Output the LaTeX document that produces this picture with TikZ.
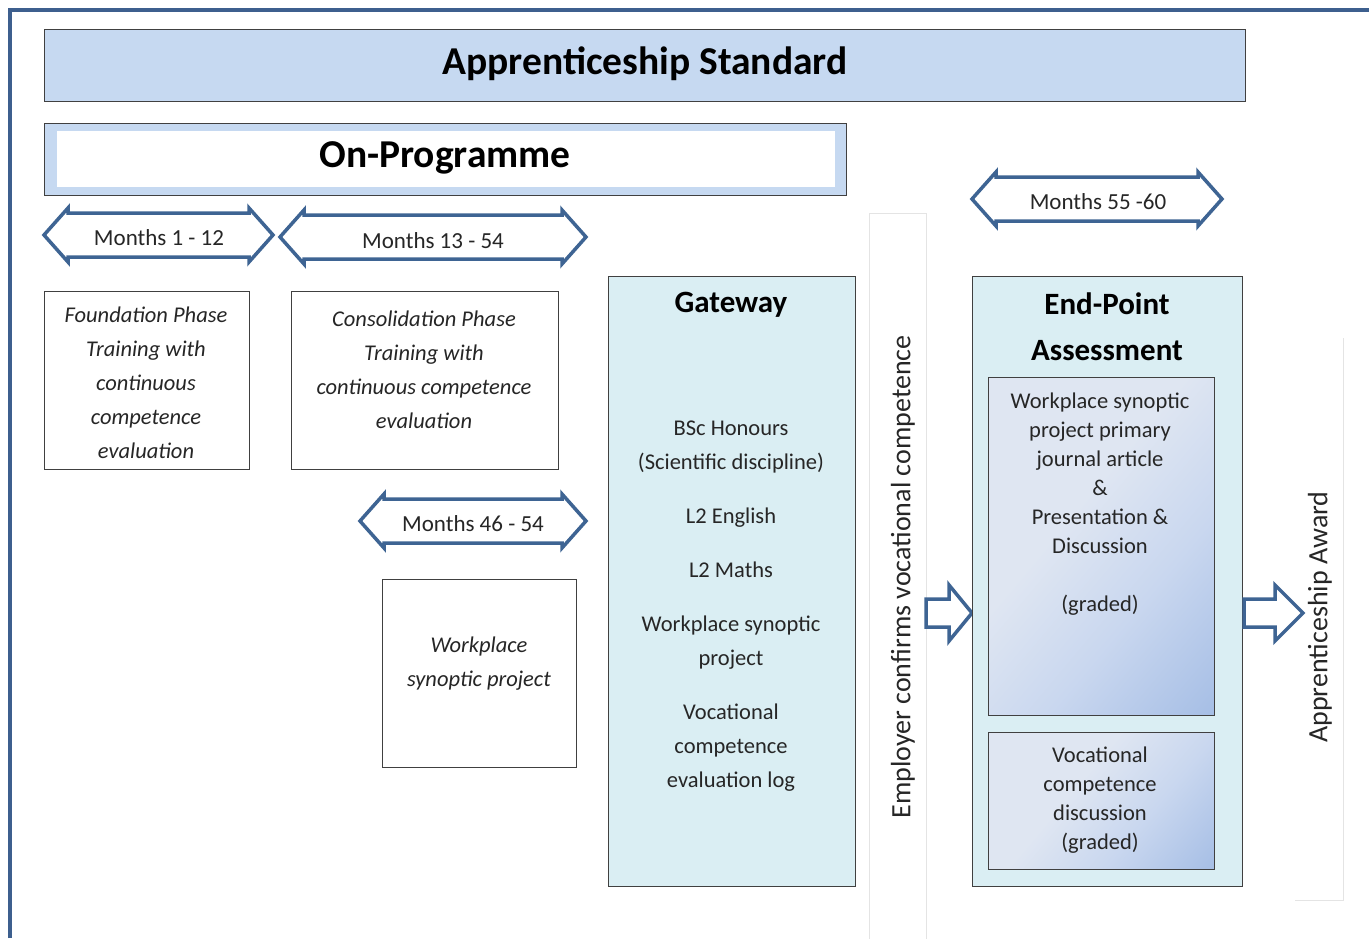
\documentclass[tikz,border=0pt]{standalone}
\usepackage{fontspec}
\setmainfont{Carlito}
\definecolor{framec}{HTML}{3D5F8E}
\definecolor{arrc}{HTML}{3E6493}
\definecolor{bordc}{HTML}{404040}
\definecolor{titlef}{HTML}{C6D9F1}
\definecolor{gatef}{HTML}{DAEEF3}
\definecolor{gradA}{HTML}{DFE6F2}
\definecolor{gradM}{HTML}{C9D7EF}
\definecolor{gradB}{HTML}{8FAEDF}
\definecolor{faint}{HTML}{E4E4E4}
\definecolor{txt}{HTML}{262626}
\pgfdeclarehorizontalshading{epagrad}{100bp}{color(0bp)=(gradA); color(42bp)=(gradA); color(62bp)=(gradM); color(100bp)=(gradB)}
\tikzset{
  box/.style={draw=bordc, line width=1.3, inner sep=0, anchor=north west},
  gradbox/.style={box, shading=epagrad, shading angle=-40},
  arrline/.style={draw=arrc, line width=3.5, fill=white, line join=miter},
  body/.style={font=\fontsize{22.5}{34}\selectfont, align=center, text=txt, inner sep=0},
  ital/.style={font=\fontsize{22.5}{34}\selectfont\itshape, align=center, text=txt, inner sep=0},
  epa/.style={font=\fontsize{22.5}{29}\selectfont, align=center, text=txt, inner sep=0},
  head/.style={font=\fontsize{39.5}{46}\selectfont\bfseries, align=center, inner sep=0},
  subhead/.style={font=\fontsize{31}{46}\selectfont\bfseries, align=center, inner sep=0},
  months/.style={font=\fontsize{23}{27}\selectfont, text=txt, inner sep=0},
  vert/.style={font=\fontsize{28}{30}\selectfont, rotate=90, text=txt, inner sep=0},
}
\newcommand\dblarrow[3]{%
  \draw[arrline] (#1,#3) -- (#1+24,#3-27) -- (#1+24,#3-22) -- (#2-24,#3-22) -- (#2-24,#3-27)
    -- (#2,#3) -- (#2-24,#3+27) -- (#2-24,#3+22) -- (#1+24,#3+22) -- (#1+24,#3+27) -- cycle;}
\newcommand\blockarrow[4]{% x0, xhead, xtip, yc
  \draw[arrline] (#1,#4-14) -- (#2,#4-14) -- (#2,#4-28) -- (#3,#4) -- (#2,#4+28) -- (#2,#4+14) -- (#1,#4+14) -- cycle;}
\begin{document}
\begin{tikzpicture}[x=1pt,y=-1pt]
\useasboundingbox (0,0) rectangle (1369,938);
\fill[white] (0,0) rectangle (1369,938);
% outer frame
\draw[framec, line width=4] (10,938) -- (10,10) -- (1369,10);
% title
\node[box, fill=titlef, minimum width=1201, minimum height=72] (stdbox) at (44,29) {};
\node[head] (std) at (645,64) {Apprenticeship Standard};
% on-programme
\node[box, fill=titlef, minimum width=802, minimum height=72] (onprog) at (44,123) {};
\node[inner sep=0, anchor=north west, fill=white, minimum width=778, minimum height=56] (onprogin) at (57,131) {};
\node[head] (onprogt) at (445,158) {On-Programme};
% month arrows
\dblarrow{44}{273}{235}
\node[months] (m1) at (159,238) {Months 1 - 12};
\dblarrow{280}{586}{237}
\node[months] (m2) at (433,241) {Months 13 - 54};
\dblarrow{360}{586}{521}
\node[months] (m3) at (473,524) {Months 46 - 54};
\dblarrow{972}{1222}{199}
\node[months] (m4) at (1098,202) {Months 55 -60};
% phases
\node[box, minimum width=205, minimum height=178] (found) at (44,291) {};
\node[ital] (foundt) at (146,383) {Foundation Phase\\Training with\\continuous\\competence\\evaluation};
\node[box, minimum width=267, minimum height=178] (cons) at (291,291) {};
\node[ital] (const) at (424,370) {Consolidation Phase\\Training with\\continuous competence\\evaluation};
\node[box, minimum width=194, minimum height=188] (wsp) at (382,579) {};
\node[ital] (wspt) at (479,664) {Workplace\\synoptic project};
% gateway
\node[box, fill=gatef, minimum width=247, minimum height=610] (gate) at (608,276) {};
\node[subhead] (gatet) at (731,305) {Gateway};
\node[body] (gatebody) at (731,606) {BSc Honours\\(Scientific discipline)\\[20pt]L2 English\\[20pt]L2 Maths\\[20pt]Workplace synoptic\\project\\[20pt]Vocational\\competence\\evaluation log};
% employer strip
\node[draw=faint, line width=1, inner sep=0, anchor=north west, minimum width=57, minimum height=740] (empstrip) at (869,213) {};
\node[vert] (emp) at (903,577) {Employer confirms vocational competence};
\blockarrow{926}{949}{972}{613}
% EPA
\node[box, fill=gatef, minimum width=270, minimum height=610] (epa) at (972,276) {};
\node[subhead] (epat) at (1107,327) {End-Point\\Assessment};
\node[gradbox, minimum width=226, minimum height=338] (epa1) at (988,377) {};
\node[epa] (epa1t) at (1100,504) {Workplace synoptic\\project primary\\journal article\\\&\\Presentation \&\\Discussion\\[29pt](graded)};
\node[gradbox, minimum width=226, minimum height=137] (epa2) at (988,732) {};
\node[epa] (epa2t) at (1100,800) {Vocational\\competence\\discussion\\(graded)};
\blockarrow{1244}{1275}{1303}{613}
% award strip
\coordinate (aw1) at (1343,338);
\coordinate (aw2) at (1343,900);
\coordinate (aw3) at (1295,900);
\draw[faint, line width=1] (aw1) -- (aw2) -- (aw3);
\node[vert] (award) at (1320,617) {Apprenticeship Award};
\end{tikzpicture}
\end{document}
